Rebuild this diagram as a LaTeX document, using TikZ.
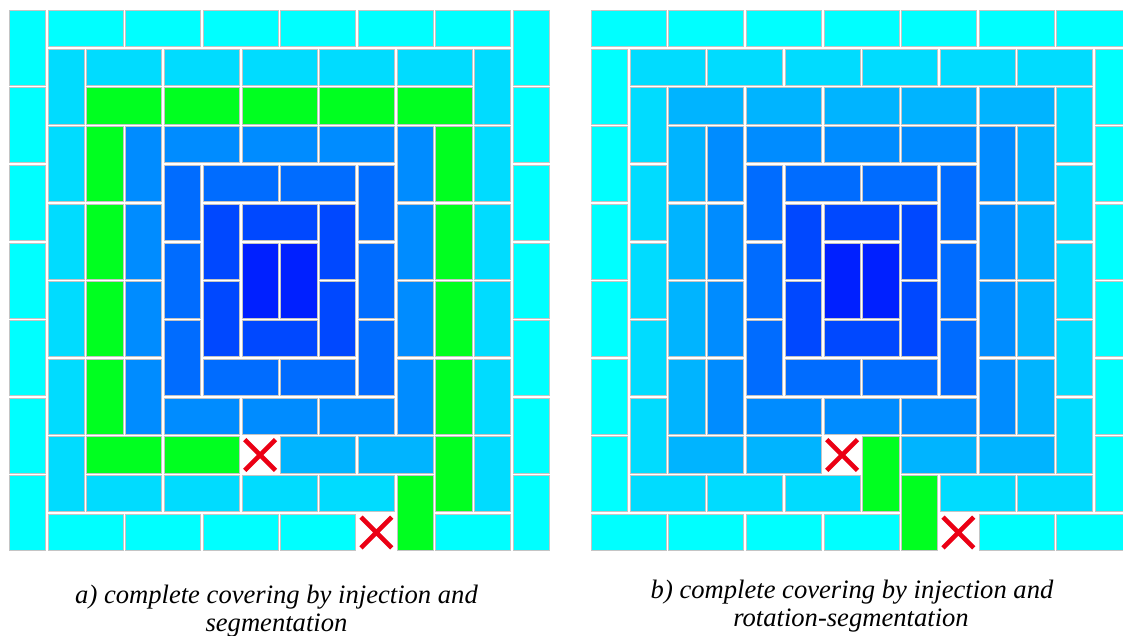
\documentclass[tikz,border=0pt]{standalone}
\usepackage{fontspec}
\setmainfont{Liberation Serif}

% ring colours, outermost to centre
\definecolor{ringA}{HTML}{00FFFF}
\definecolor{ringB}{HTML}{00DCFF}
\definecolor{ringC}{HTML}{00B4FF}
\definecolor{ringD}{HTML}{008CFF}
\definecolor{ringE}{HTML}{006CFF}
\definecolor{ringF}{HTML}{0048FF}
\definecolor{ringG}{HTML}{0020FF}
\definecolor{pathgreen}{HTML}{00FF20}
\definecolor{crossred}{RGB}{235,0,20}
\definecolor{tileedge}{HTML}{C4C4C4}

\def\gx{8}
\def\gy{9}
\def\cs{38.78}

% domino: column, row, width (cells), height (cells), colour
\newcommand\dom[5]{%
  \filldraw[fill=#5, draw=tileedge, line width=0.8pt]
    ({\gx+(#1)*\cs+1.3},{\gy+(#2)*\cs+1.3}) rectangle
    ({\gx+(#1+#3)*\cs-1.3},{\gy+(#2+#4)*\cs-1.3});}
% empty cell marked with a cross
\newcommand\cross[2]{%
  \draw[crossred, line width=4.6pt]
    ({\gx+(#1)*\cs+4},{\gy+(#2)*\cs+4}) -- ({\gx+(#1+1)*\cs-4},{\gy+(#2+1)*\cs-4})
    ({\gx+(#1+1)*\cs-4},{\gy+(#2)*\cs+4}) -- ({\gx+(#1)*\cs+4},{\gy+(#2+1)*\cs-4});}

% inner rings 3..5 and the centre pair, same in both coverings
\newcommand\innerrings{%
  \foreach \r in {3,5,7,9} {\dom{3}{\r}{1}{2}{ringD}\dom{10}{\r}{1}{2}{ringD}}
  \foreach \c in {4,6,8} {\dom{\c}{3}{2}{1}{ringD}\dom{\c}{10}{2}{1}{ringD}}
  \foreach \r in {4,6,8} {\dom{4}{\r}{1}{2}{ringE}\dom{9}{\r}{1}{2}{ringE}}
  \foreach \c in {5,7} {\dom{\c}{4}{2}{1}{ringE}\dom{\c}{9}{2}{1}{ringE}}
  \foreach \r in {5,7} {\dom{5}{\r}{1}{2}{ringF}\dom{8}{\r}{1}{2}{ringF}}
  \dom{6}{5}{2}{1}{ringF}\dom{6}{8}{2}{1}{ringF}
  \dom{6}{6}{1}{2}{ringG}\dom{7}{6}{1}{2}{ringG}}

\begin{document}
\begin{tikzpicture}[x=1pt, y=-1pt,
  caption/.style={inner sep=0pt, anchor=base, font=\fontsize{26.6}{28}\selectfont\itshape}]
\useasboundingbox (0,0) rectangle (1123,636);
\clip (0,0) rectangle (1123,636);
\fill[white] (0,0) rectangle (1123,636);

% ---- covering a): injection and segmentation ----
\def\gx{8}
% ring 0
\foreach \r in {0,2,...,12} {\dom{0}{\r}{1}{2}{ringA}\dom{13}{\r}{1}{2}{ringA}}
\foreach \c in {1,3,...,11} {\dom{\c}{0}{2}{1}{ringA}}
\foreach \c in {1,3,5,7,11} {\dom{\c}{13}{2}{1}{ringA}}
% ring 1
\foreach \r in {1,3,...,11} {\dom{1}{\r}{1}{2}{ringB}\dom{12}{\r}{1}{2}{ringB}}
\foreach \c in {2,4,...,10} {\dom{\c}{1}{2}{1}{ringB}}
\foreach \c in {2,4,6,8} {\dom{\c}{12}{2}{1}{ringB}}
% ring 2, mostly the injected green path
\foreach \c in {2,4,...,10} {\dom{\c}{2}{2}{1}{pathgreen}}
\foreach \r in {3,5,7,9} {\dom{2}{\r}{1}{2}{pathgreen}}
\foreach \r in {3,5,...,11} {\dom{11}{\r}{1}{2}{pathgreen}}
\foreach \c in {2,4} {\dom{\c}{11}{2}{1}{pathgreen}}
\foreach \c in {7,9} {\dom{\c}{11}{2}{1}{ringC}}
\dom{10}{12}{1}{2}{pathgreen}
\innerrings
\cross{6}{11}
\cross{9}{13}

% ---- covering b): injection and rotation-segmentation ----
\def\gx{590}
% ring 0
\foreach \c in {0,2,...,12} {\dom{\c}{0}{2}{1}{ringA}}
\foreach \r in {1,3,...,11} {\dom{0}{\r}{1}{2}{ringA}\dom{13}{\r}{1}{2}{ringA}}
\foreach \c in {0,2,4,6,10,12} {\dom{\c}{13}{2}{1}{ringA}}
% ring 1
\foreach \c in {1,3,...,11} {\dom{\c}{1}{2}{1}{ringB}}
\foreach \r in {2,4,...,10} {\dom{1}{\r}{1}{2}{ringB}\dom{12}{\r}{1}{2}{ringB}}
\foreach \c in {1,3,5,9,11} {\dom{\c}{12}{2}{1}{ringB}}
% ring 2
\foreach \c in {2,4,...,10} {\dom{\c}{2}{2}{1}{ringC}}
\foreach \r in {3,5,7,9} {\dom{2}{\r}{1}{2}{ringC}\dom{11}{\r}{1}{2}{ringC}}
\foreach \c in {2,4,8,10} {\dom{\c}{11}{2}{1}{ringC}}
% rotated green segments
\dom{7}{11}{1}{2}{pathgreen}
\dom{8}{12}{1}{2}{pathgreen}
\innerrings
\cross{6}{11}
\cross{9}{13}

% ---- captions ----
\node[caption] (capA1) at (276.5,603) {a) complete covering by injection and};
\node[caption] (capA2) at (276.5,631) {segmentation};
\node[caption] (capB1) at (852,598) {b) complete covering by injection and};
\node[caption] (capB2) at (851,626) {rotation-segmentation};
\end{tikzpicture}
\end{document}
